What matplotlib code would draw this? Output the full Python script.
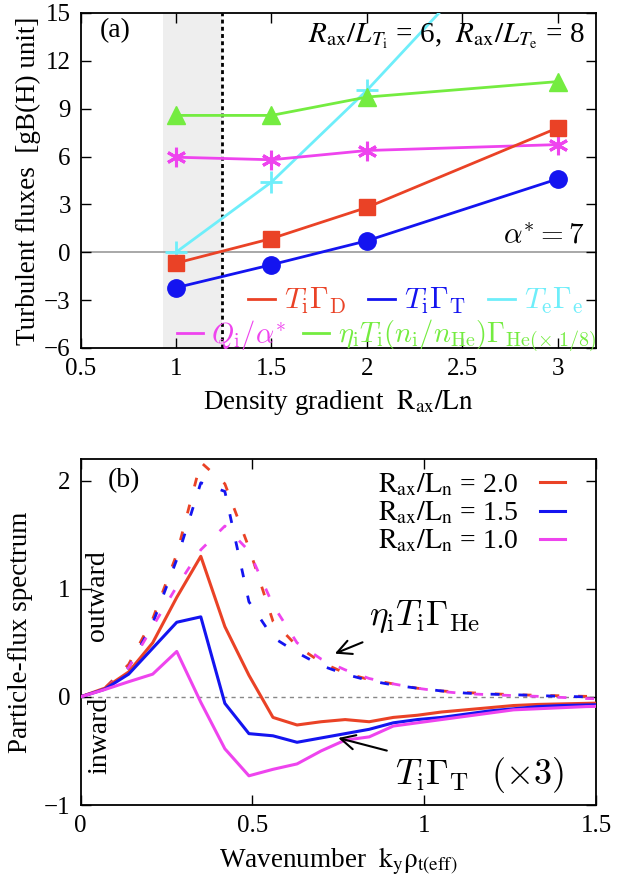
import matplotlib
matplotlib.use("Agg")
import matplotlib.pyplot as plt
from matplotlib.lines import Line2D

plt.rcParams["font.family"] = ["Liberation Serif", "DejaVu Serif"]
plt.rcParams["mathtext.fontset"] = "stix"

# ---- panel (a): fluxes vs density gradient ----
rln = [1.0, 1.5, 2.0, 3.0]
ti_gd = [-0.68, 0.86, 2.81, 7.8]
ti_gt = [-2.22, -0.78, 0.72, 4.6]
te_ge = [0.0, 4.4, 10.15, 23.0]
qi_alpha = [5.96, 5.8, 6.38, 6.75]
he_flux = [8.58, 8.58, 9.73, 10.7]

shade_lo, shade_hi = 0.93, 1.24

# ---- panel (b): spectra ----
ky = [0, 0.07, 0.14, 0.21, 0.28, 0.35, 0.42, 0.49, 0.56, 0.63, 0.70,
      0.77, 0.84, 0.91, 0.98, 1.05, 1.12, 1.19, 1.26, 1.33, 1.40, 1.47, 1.54]

gt_20 = [0, 0.08, 0.23, 0.50, 0.92, 1.30, 0.65, 0.20, -0.19, -0.26, -0.23,
         -0.21, -0.23, -0.19, -0.17, -0.14, -0.12, -0.10, -0.08, -0.07, -0.065, -0.06, -0.055]
gt_15 = [0, 0.07, 0.21, 0.45, 0.69, 0.74, -0.06, -0.34, -0.36, -0.42, -0.38,
         -0.34, -0.30, -0.24, -0.21, -0.19, -0.16, -0.13, -0.11, -0.09, -0.08, -0.075, -0.07]
gt_10 = [0, 0.067, 0.14, 0.21, 0.42, -0.05, -0.48, -0.73, -0.67, -0.62, -0.50,
         -0.40, -0.37, -0.27, -0.24, -0.21, -0.18, -0.15, -0.12, -0.11, -0.10, -0.09, -0.085]

ghe_20 = [0, 0.08, 0.30, 0.72, 1.32, 2.17, 1.97, 1.38, 0.70, 0.47, 0.32,
          0.22, 0.16, 0.12, 0.08, 0.055, 0.04, 0.03, 0.02, 0.015, 0.01, 0.005, 0.003]
ghe_15 = [0, 0.07, 0.27, 0.68, 1.27, 1.98, 1.90, 0.88, 0.55, 0.41, 0.29,
          0.21, 0.15, 0.11, 0.08, 0.055, 0.035, 0.025, 0.02, 0.012, 0.005, 0.0, -0.003]
ghe_10 = [0, 0.07, 0.27, 0.65, 1.02, 1.36, 1.58, 1.35, 0.85, 0.50, 0.35,
          0.25, 0.17, 0.12, 0.08, 0.05, 0.03, 0.02, 0.012, 0.005, -0.005, -0.015, -0.02]

red = "#ea4226"
blue = "#1414f0"
cyan = "#6eeefa"
magenta = "#ee44ee"
green = "#74ec40"

fig = plt.figure(figsize=(6.17, 8.9), dpi=100)
ax1 = fig.add_axes([0.1305, 0.609, 0.8355, 0.3764])
ax2 = fig.add_axes([0.1305, 0.0955, 0.8355, 0.3888])

# ---------------- panel (a) ----------------
ax1.axvspan(shade_lo, shade_hi, color="#eeeeee", lw=0, zorder=0)
ax1.axvline(shade_hi, color="black", lw=2, linestyle=(0, (1.4, 1.2)), zorder=1)
ax1.axhline(0, color="#999999", lw=1.2, zorder=1)

lw = 2.0
ax1.plot(rln, te_ge, color=cyan, lw=lw, marker="+", ms=16, mew=2, zorder=3)
ax1.plot(rln, he_flux, color=green, lw=lw, marker="^", ms=13, zorder=3)
ax1.plot(rln, qi_alpha, color=magenta, lw=lw, marker=(6, 2, 0), ms=14, mew=2.2, zorder=3)
ax1.plot(rln, ti_gd, color=red, lw=lw, marker="s", ms=11, zorder=4)
ax1.plot(rln, ti_gt, color=blue, lw=lw, marker="o", ms=12.5, zorder=4)

ax1.set_xlim(0.5, 3.2)
ax1.set_ylim(-6, 15)
ax1.set_xticks([0.5, 1, 1.5, 2, 2.5, 3])
ax1.set_xticklabels(["0.5", "1", "1.5", "2", "2.5", "3"])
ax1.set_yticks([-6, -3, 0, 3, 6, 9, 12, 15])
ax1.set_xlabel(r"Density gradient  $\mathrm{R_{ax}/Ln}$", fontsize=19.5, labelpad=6)
ax1.set_ylabel("Turbulent fluxes  [gB(H) unit]", fontsize=19.5, labelpad=2)

ax1.text(0.6, 13.9, "(a)", fontsize=20, va="center", ha="left")
ax1.text(3.14, 13.55, r"$R_{\rm ax}/L_{T_{\rm i}}$ = 6,  $R_{\rm ax}/L_{T_{\rm e}}$ = 8",
         fontsize=21, ha="right", va="center")
ax1.text(3.14, 1.0, r"$\alpha^{*}=7$", fontsize=21, ha="right", va="center",
         math_fontfamily="cm")

row1 = [Line2D([], [], color=red, lw=2), Line2D([], [], color=blue, lw=2),
        Line2D([], [], color=cyan, lw=2)]
lab1 = [r"$T_{\rm i}\Gamma_{\rm D}$", r"$T_{\rm i}\Gamma_{\rm T}$", r"$T_{\rm e}\Gamma_{\rm e}$"]
leg1 = ax1.legend(row1, lab1, ncol=3, loc="center right", bbox_to_anchor=(0.975, 0.14),
                  frameon=False, prop=dict(size=21.5, math_fontfamily="cm"),
                  handlelength=0.9, handletextpad=0.3,
                  columnspacing=0.75, labelcolor="linecolor", borderpad=0, borderaxespad=0)
ax1.add_artist(leg1)
row2 = [Line2D([], [], color=magenta, lw=2), Line2D([], [], color=green, lw=2)]
lab2 = [r"$Q_{\rm i}/\alpha^{*}$",
        r"$\eta_{\rm i}T_{\rm i}(n_{\rm i}/n_{\rm He})\Gamma_{\rm He(\times\ 1/8)}$"]
ax1.legend(row2, lab2, ncol=2, loc="center right", bbox_to_anchor=(1.0, 0.035),
           frameon=False, prop=dict(size=20.5, math_fontfamily="cm"),
           handlelength=0.9, handletextpad=0.3,
           columnspacing=0.6, labelcolor="linecolor", borderpad=0, borderaxespad=0)

# ---------------- panel (b) ----------------
ax2.axhline(0, color="#888888", lw=1, linestyle=(0, (3, 3)), zorder=1)

dash = (0, (3.2, 6.8))
ax2.plot(ky, ghe_20, color=red, lw=2, linestyle=dash, zorder=2)
ax2.plot(ky, ghe_15, color=blue, lw=2, linestyle=dash, zorder=2)
ax2.plot(ky, ghe_10, color=magenta, lw=2, linestyle=dash, zorder=2)

l20, = ax2.plot(ky, gt_20, color=red, lw=2.2, zorder=3)
l15, = ax2.plot(ky, gt_15, color=blue, lw=2.2, zorder=3)
l10, = ax2.plot(ky, gt_10, color=magenta, lw=2.2, zorder=3)

ax2.set_xlim(0, 1.5)
ax2.set_ylim(-1, 2.2)
ax2.set_xticks([0, 0.5, 1, 1.5])
ax2.set_xticklabels(["0", "0.5", "1", "1.5"])
ax2.set_yticks([-1, 0, 1, 2])
ax2.set_xlabel(r"Wavenumber  $\mathrm{k_y\rho_{t(eff)}}$", fontsize=19.5, labelpad=6)
ax2.set_ylabel("Particle-flux spectrum", fontsize=19.5, labelpad=8)

ax2.legend([l20, l15, l10],
           [r"$\mathrm{R_{ax}/L_n}$ = 2.0", r"$\mathrm{R_{ax}/L_n}$ = 1.5",
            r"$\mathrm{R_{ax}/L_n}$ = 1.0"],
           loc="upper right", bbox_to_anchor=(0.94, 0.965), frameon=False, fontsize=20,
           markerfirst=False, handlelength=0.9, handletextpad=0.8, labelspacing=0.05,
           borderpad=0, borderaxespad=0)

ax2.text(0.08, 2.0, "(b)", fontsize=20, va="center", ha="left")
ax2.text(0.05, 0.94, "outward", rotation=90, fontsize=20, ha="center", va="center")
ax2.text(0.057, -0.36, "inward", rotation=90, fontsize=20, ha="center", va="center")

ax2.annotate(r"$\eta_{\rm i}T_{\rm i}\Gamma_{\rm He}$", xy=(0.74, 0.40), xytext=(0.84, 0.74),
             fontsize=25.5, ha="left", va="center", math_fontfamily="cm",
             arrowprops=dict(arrowstyle="->", color="black", lw=1.5, shrinkA=8, shrinkB=0))
ax2.annotate(r"$T_{\rm i}\Gamma_{\rm T}\ \ (\times 3)$", xy=(0.75, -0.38), xytext=(0.915, -0.72),
             fontsize=26, ha="left", va="center", math_fontfamily="cm",
             arrowprops=dict(arrowstyle="->", color="black", lw=1.5, shrinkA=4, shrinkB=0))

for ax in (ax1, ax2):
    ax.tick_params(direction="in", top=True, right=True, length=7, width=1,
                   labelsize=18, pad=7)
    for s in ax.spines.values():
        s.set_linewidth(1.3)

fig.savefig("out.png", dpi=100)
